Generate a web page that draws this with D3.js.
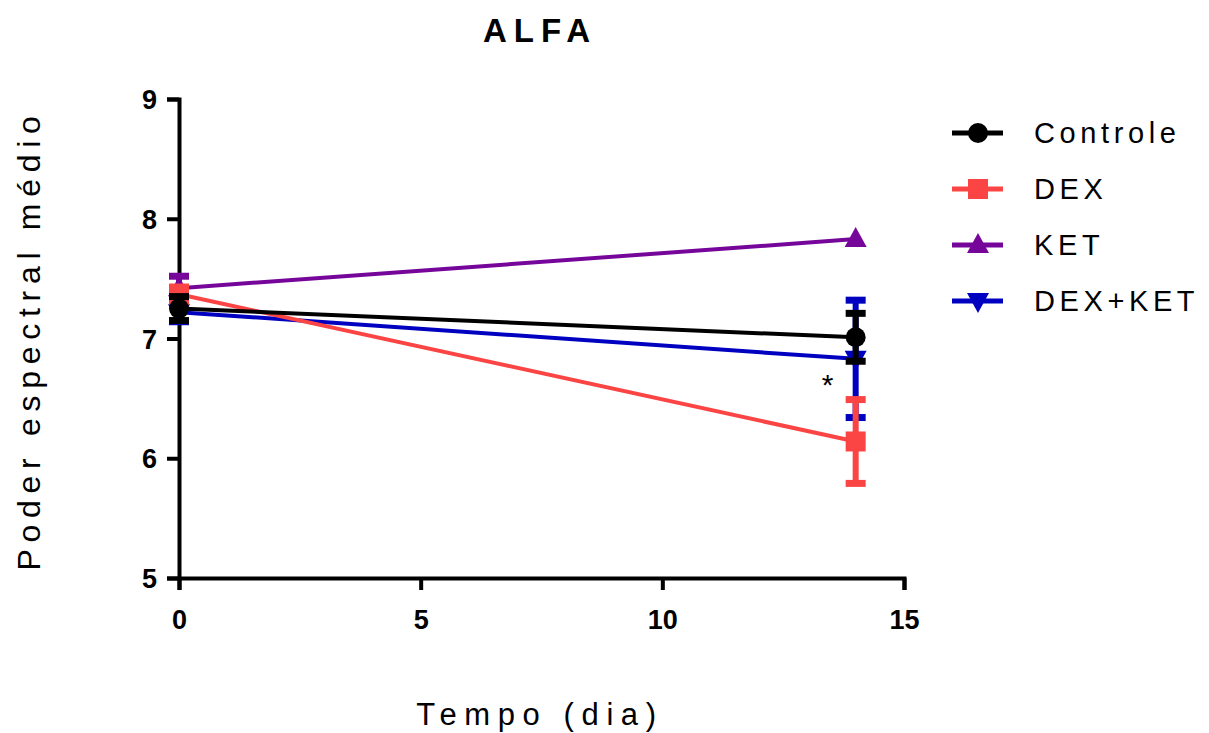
<!DOCTYPE html>
<html>
<head>
<meta charset="utf-8">
<script src="https://cdn.jsdelivr.net/npm/d3@7"></script>
<style>
  body { margin: 0; background: #fff; }
  text { font-family: "Liberation Sans", Arial, sans-serif; }
</style>
</head>
<body>
<svg id="chart" width="1209" height="733"></svg>
<script>
// Time points (days)
const days = [0, 14];

// Series: mean and error (SEM) per time point
const seriesNames = ["Controle", "DEX", "KET", "DEX+KET"];
const controleMean = [7.25, 7.01];
const controleErr  = [0.10, 0.20];
const dexMean      = [7.37, 6.14];
const dexErr       = [0.06, 0.35];
const ketMean      = [7.42, 7.83];
const ketErr       = [0.10, 0.00];
const dexKetMean   = [7.22, 6.83];
const dexKetErr    = [0.08, 0.49];

const xTicks = [0, 5, 10, 15];
const yTicks = [5, 6, 7, 8, 9];

const colors = { "Controle": "#000000", "DEX": "#fb4444", "KET": "#76069a", "DEX+KET": "#0000c0" };
const symbols = { "Controle": "circle", "DEX": "square", "KET": "up", "DEX+KET": "down" };

const series = [
  { name: "Controle", mean: controleMean, err: controleErr },
  { name: "DEX", mean: dexMean, err: dexErr },
  { name: "KET", mean: ketMean, err: ketErr },
  { name: "DEX+KET", mean: dexKetMean, err: dexKetErr }
];

const svg = d3.select("#chart");
const x = d3.scaleLinear().domain([0, 15]).range([179, 904]);
const y = d3.scaleLinear().domain([5, 9]).range([578, 99]);

// Title
svg.append("text").attr("x", 540).attr("y", 42).attr("text-anchor", "middle")
  .attr("font-size", 33).attr("font-weight", "bold").attr("letter-spacing", 7)
  .text("ALFA");

// Axes
const xAxis = svg.append("g").attr("transform", "translate(0,578)")
  .call(d3.axisBottom(x).tickValues(xTicks).tickSize(12).tickPadding(20).tickFormat(d3.format("d")));
const yAxis = svg.append("g").attr("transform", "translate(179,0)")
  .call(d3.axisLeft(y).tickValues(yTicks).tickSize(12).tickPadding(10).tickFormat(d3.format("d")));
[xAxis, yAxis].forEach(g => {
  g.select(".domain").attr("stroke", "#000").attr("stroke-width", 4);
  g.selectAll(".tick line").attr("stroke", "#000").attr("stroke-width", 4);
  g.selectAll(".tick text").attr("font-size", 27).attr("font-weight", "bold")
    .attr("fill", "#000").attr("font-family", "Liberation Sans, Arial, sans-serif");
});
yAxis.selectAll(".tick text").attr("dy", "0.36em");

// Axis titles
svg.append("text").attr("x", 540).attr("y", 725).attr("text-anchor", "middle")
  .attr("font-size", 31).attr("letter-spacing", 7.6).text("Tempo (dia)");
svg.append("text").attr("transform", "translate(40,340) rotate(-90)")
  .attr("text-anchor", "middle").attr("font-size", 32).attr("letter-spacing", 6.7)
  .text("Poder espectral médio");

function drawMarker(g, kind, cx, cy, color) {
  if (kind === "circle") {
    g.append("circle").attr("cx", cx).attr("cy", cy).attr("r", 10).attr("fill", color);
  } else if (kind === "square") {
    g.append("rect").attr("x", cx - 10).attr("y", cy - 10).attr("width", 20).attr("height", 20).attr("fill", color);
  } else if (kind === "up") {
    g.append("path").attr("d", `M${cx},${cy - 12}L${cx + 11},${cy + 8}L${cx - 11},${cy + 8}Z`).attr("fill", color);
  } else {
    g.append("path").attr("d", `M${cx},${cy + 12}L${cx + 11},${cy - 8}L${cx - 11},${cy - 8}Z`).attr("fill", color);
  }
}

// Draw series, last one first so Controle ends on top
const plot = svg.append("g");
const line = d3.line().x(d => x(d[0])).y(d => y(d[1]));
series.slice().reverse().forEach(s => {
  const c = colors[s.name];
  const g = plot.append("g");
  const pts = days.map((d, i) => [d, s.mean[i], s.err[i]]);
  g.append("path").attr("d", line(pts)).attr("fill", "none").attr("stroke", c).attr("stroke-width", 4);
  pts.forEach(p => {
    if (p[2] > 0) {
      const top = y(p[1] + p[2]), bot = y(p[1] - p[2]);
      g.append("line").attr("x1", x(p[0])).attr("x2", x(p[0])).attr("y1", top).attr("y2", bot)
        .attr("stroke", c).attr("stroke-width", 6);
      [top, bot].forEach(yy => g.append("line")
        .attr("x1", x(p[0]) - 10).attr("x2", x(p[0]) + 10).attr("y1", yy).attr("y2", yy)
        .attr("stroke", c).attr("stroke-width", 7));
    }
    drawMarker(g, symbols[s.name], x(p[0]), y(p[1]), c);
  });
});

// Significance mark
svg.append("text").attr("x", x(14) - 28).attr("y", y(6.53)).attr("text-anchor", "middle")
  .attr("font-size", 30).text("*");

// Legend
const legend = svg.append("g");
seriesNames.forEach((n, i) => {
  const ly = 133 + i * 56;
  legend.append("line").attr("x1", 952).attr("x2", 1003).attr("y1", ly).attr("y2", ly)
    .attr("stroke", colors[n]).attr("stroke-width", 5);
  drawMarker(legend, symbols[n], 978, ly, colors[n]);
  legend.append("text").attr("x", 1034).attr("y", ly + 10).attr("font-size", 29)
    .attr("letter-spacing", 4.6).text(n);
});
</script>
</body>
</html>
